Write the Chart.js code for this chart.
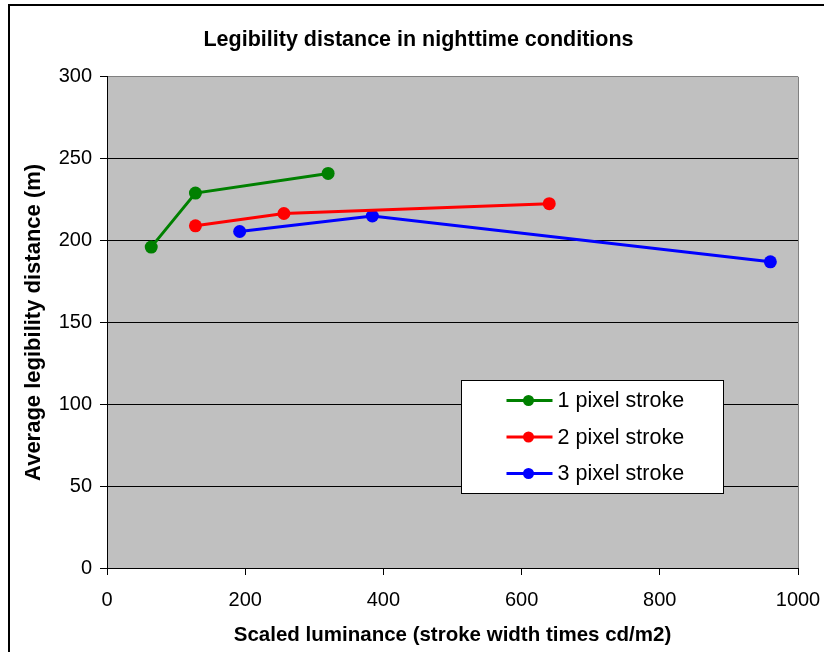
<!DOCTYPE html>
<html>
<head>
<meta charset="utf-8">
<script src="https://cdn.jsdelivr.net/npm/chart.js@4/dist/chart.umd.min.js"></script>
<style>
  html, body { margin: 0; padding: 0; background: #fff; }
  #wrap { width: 824px; height: 652px; }
</style>
</head>
<body>
<div id="wrap"><canvas id="c" width="824" height="652"></canvas></div>
<script>
const seriesNames = ['1 pixel stroke', '2 pixel stroke', '3 pixel stroke'];
const seriesColors = ['#008000', '#FF0000', '#0000FF'];
const xOnePixel = [64, 128, 320];
const yOnePixel = [196, 229, 241];
const xTwoPixel = [128, 256, 640];
const yTwoPixel = [209, 216.5, 222.5];
const xThreePixel = [192, 384, 960];
const yThreePixel = [205.5, 215, 187];
const xTicks = [0, 200, 400, 600, 800, 1000];
const yTicks = [0, 50, 100, 150, 200, 250, 300];

const FONT = '"Liberation Sans", Arial, sans-serif';

function pts(xs, ys) { return xs.map((x, i) => ({ x: x, y: ys[i] })); }
const seriesXs = [xOnePixel, xTwoPixel, xThreePixel];
const seriesYs = [yOnePixel, yTwoPixel, yThreePixel];

const datasets = seriesNames.map((name, i) => ({
  label: name,
  data: pts(seriesXs[i], seriesYs[i]),
  showLine: true,
  borderColor: seriesColors[i],
  backgroundColor: seriesColors[i],
  borderWidth: 3,
  pointRadius: 6.5,
  pointBorderWidth: 0,
  pointBackgroundColor: seriesColors[i],
  tension: 0
}));

const framePlugin = {
  id: 'frame',
  beforeDraw(chart) {
    const ctx = chart.ctx, a = chart.chartArea;
    ctx.save();
    ctx.fillStyle = '#fff';
    ctx.fillRect(0, 0, chart.width, chart.height);
    ctx.fillStyle = '#C0C0C0';
    ctx.fillRect(a.left, a.top, a.right - a.left, a.bottom - a.top);
    ctx.strokeStyle = '#000';
    ctx.lineWidth = 2;
    ctx.beginPath();
    ctx.moveTo(9, chart.height);
    ctx.lineTo(9, 5);
    ctx.lineTo(chart.width, 5);
    ctx.stroke();
    ctx.restore();
  },
  beforeDatasetsDraw(chart) {
    const ctx = chart.ctx, a = chart.chartArea;
    ctx.save();
    ctx.strokeStyle = '#808080';
    ctx.lineWidth = 1;
    ctx.beginPath();
    ctx.moveTo(a.right + 0.5, a.top);
    ctx.lineTo(a.right + 0.5, a.bottom);
    ctx.stroke();
    ctx.restore();
  },
  afterDatasetsDraw(chart) {
    const ctx = chart.ctx, a = chart.chartArea;
    const w = a.right - a.left, h = a.bottom - a.top;
    const bx = Math.round(a.left + 0.512 * w) + 0.5;
    const by = Math.round(a.top + 0.618 * h) + 0.5;
    const bw = Math.round(0.379 * w);
    const bh = Math.round(0.230 * h);
    ctx.save();
    ctx.fillStyle = '#fff';
    ctx.fillRect(bx, by, bw, bh);
    ctx.strokeStyle = '#000';
    ctx.lineWidth = 1;
    ctx.strokeRect(bx, by, bw, bh);
    ctx.font = '21.5px ' + FONT;
    ctx.textBaseline = 'middle';
    ctx.textAlign = 'left';
    chart.data.datasets.forEach((ds, i) => {
      const y = by + 20 + i * 36.5;
      const x0 = bx + 45;
      ctx.strokeStyle = ds.borderColor;
      ctx.lineWidth = 3;
      ctx.beginPath();
      ctx.moveTo(x0, y);
      ctx.lineTo(x0 + 46, y);
      ctx.stroke();
      ctx.fillStyle = ds.borderColor;
      ctx.beginPath();
      ctx.arc(x0 + 22, y, 5.5, 0, Math.PI * 2);
      ctx.fill();
      ctx.fillStyle = '#000';
      ctx.fillText(ds.label, x0 + 51, y + 1);
    });
    ctx.restore();
  }
};

new Chart(document.getElementById('c'), {
  type: 'scatter',
  data: { datasets: datasets },
  plugins: [framePlugin],
  options: {
    responsive: false,
    animation: false,
    devicePixelRatio: 1,
    layout: { padding: { left: 20, right: 7, top: 0, bottom: 0 } },
    plugins: {
      legend: { display: false },
      tooltip: { enabled: false },
      title: {
        display: true,
        text: 'Legibility distance in nighttime conditions',
        color: '#000',
        font: { family: FONT, size: 21.5, weight: 'bold' },
        padding: { top: 27, bottom: 24 }
      }
    },
    scales: {
      x: {
        type: 'linear',
        min: 0, max: 1000,
        afterBuildTicks(scale) { scale.ticks = xTicks.map(v => ({ value: v })); },
        afterFit(scale) { scale.height = 84; scale.paddingRight = 26; scale.paddingLeft = 0; },
        ticks: { color: '#000', font: { family: FONT, size: 20 }, padding: 13, maxRotation: 0,
                 callback: (v) => String(v) },
        grid: { drawOnChartArea: false, drawTicks: true, tickLength: 7, color: '#000', tickColor: '#000' },
        border: { display: true, color: '#000', width: 1 },
        title: {
          display: true,
          text: 'Scaled luminance (stroke width times cd/m2)',
          color: '#000',
          font: { family: FONT, size: 20.5, weight: 'bold' },
          padding: { top: 0, bottom: 4 }
        }
      },
      y: {
        type: 'linear',
        min: 0, max: 300,
        afterBuildTicks(scale) { scale.ticks = yTicks.map(v => ({ value: v })); },
        afterFit(scale) { scale.width = 87; },
        ticks: { color: '#000', font: { family: FONT, size: 20 }, padding: 8, callback: (v) => String(v) },
        grid: {
          drawOnChartArea: true, drawTicks: true, tickLength: 7,
          color: (c) => (c.tick && c.tick.value === 300) ? '#808080' : '#000',
          tickColor: '#000'
        },
        border: { display: true, color: '#000', width: 1 },
        title: {
          display: true,
          text: 'Average legibility distance (m)',
          color: '#000',
          font: { family: FONT, size: 22, weight: 'bold' },
          padding: { top: 1, bottom: 1 }
        }
      }
    }
  }
});
</script>
</body>
</html>
